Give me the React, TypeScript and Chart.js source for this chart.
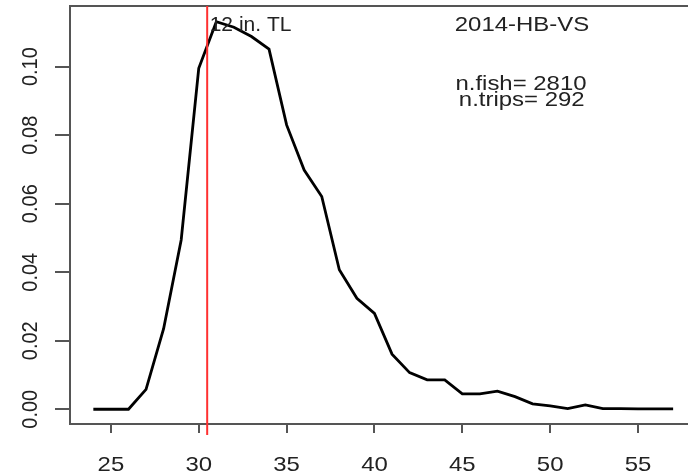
import React, { useEffect, useRef } from "react";
import { Chart, registerables } from "chart.js";

Chart.register(...registerables);

const lengthCm = [24, 25, 26, 27, 28, 29, 30, 31, 32, 33, 34, 35, 36, 37, 38, 39, 40, 41, 42, 43, 44, 45, 46, 47, 48, 49, 50, 51, 52, 53, 54, 55, 56, 57];
const density = [0, 0, 0, 0.0058, 0.0235, 0.0494, 0.0995, 0.1131, 0.1115, 0.1088, 0.1051, 0.083, 0.0698, 0.0621, 0.0407, 0.0324, 0.028, 0.0161, 0.0107, 0.0086, 0.0086, 0.0045, 0.0045, 0.0053, 0.0037, 0.0016, 0.001, 0.0002, 0.0013, 0.0002, 0.0002, 0.0001, 0.0001, 0.0001];
const xTicks = [25, 30, 35, 40, 45, 50, 55];
const yTicks = [0, 0.02, 0.04, 0.06, 0.08, 0.1];
const sizeLimitCm = 30.48;
const titleText = "2014-HB-VS";
const limitText = "12 in. TL";
const fishText = "n.fish= 2810";
const tripsText = "n.trips= 292";

const FONT = '"Liberation Sans", Arial, sans-serif';

function drawText(ctx: CanvasRenderingContext2D, text: string, x: number, y: number, size: number, align: CanvasTextAlign, sx = 1.14, rotate = false) {
  ctx.save();
  ctx.translate(x, y);
  ctx.scale(sx, 1);
  if (rotate) ctx.rotate(-Math.PI / 2);
  ctx.font = `${size}px ${FONT}`;
  ctx.fillStyle = "#222";
  ctx.textAlign = align;
  ctx.textBaseline = "alphabetic";
  ctx.fillText(text, 0, 0);
  ctx.restore();
}

const rPlot = {
  id: "rPlot",
  afterDatasetsDraw(chart: any) {
    const ctx: CanvasRenderingContext2D = chart.ctx;
    const { left, right, top, bottom } = chart.chartArea;
    const xs = chart.scales.x;
    const ys = chart.scales.y;
    ctx.save();
    // box
    ctx.strokeStyle = "#555";
    ctx.lineWidth = 2;
    ctx.beginPath();
    ctx.moveTo(right + 2, top);
    ctx.lineTo(left, top);
    ctx.lineTo(left, bottom);
    ctx.lineTo(right + 2, bottom);
    ctx.stroke();
    // ticks
    ctx.beginPath();
    for (const v of xTicks) {
      const px = Math.round(xs.getPixelForValue(v));
      ctx.moveTo(px, bottom);
      ctx.lineTo(px, bottom + 9);
    }
    for (const v of yTicks) {
      const py = Math.round(ys.getPixelForValue(v));
      ctx.moveTo(left, py);
      ctx.lineTo(left - 15, py);
    }
    ctx.stroke();
    // red limit line
    const rx = xs.getPixelForValue(sizeLimitCm);
    ctx.strokeStyle = "#ff3030";
    ctx.lineWidth = 2;
    ctx.beginPath();
    ctx.moveTo(rx, top);
    ctx.lineTo(rx, bottom + 11);
    ctx.stroke();
    ctx.restore();

    for (const v of xTicks) {
      drawText(ctx, String(v), xs.getPixelForValue(v), 470.5, 21, "center");
    }
    for (const v of yTicks) {
      drawText(ctx, v.toFixed(2), 36.7, ys.getPixelForValue(v), 20, "center", 1.14, true);
    }
    drawText(ctx, limitText, rx + 2.5, 31, 21, "left", 1.0);
    drawText(ctx, titleText, 522, 30.5, 21, "center");
    drawText(ctx, fishText, 521, 89.5, 21, "center");
    drawText(ctx, tripsText, 521.7, 105.5, 21, "center");
  },
};

export default function App() {
  const ref = useRef<HTMLCanvasElement | null>(null);
  useEffect(() => {
    if (!ref.current) return;
    const chart = new Chart(ref.current, {
      type: "line",
      data: {
        datasets: [
          {
            data: lengthCm.map((x, i) => ({ x, y: density[i] })),
            borderColor: "#000",
            borderWidth: 2.8,
            pointRadius: 0,
            tension: 0,
            fill: false,
          },
        ],
      },
      options: {
        animation: false,
        responsive: false,
        events: [],
        layout: { padding: { top: 6, left: 0, right: 0, bottom: 0 } },
        plugins: { legend: { display: false }, tooltip: { enabled: false } },
        scales: {
          x: {
            type: "linear",
            min: 22.672,
            max: 57.846,
            grid: { display: false },
            border: { display: false },
            ticks: { display: false },
            afterFit: (s: any) => {
              s.height = 52;
            },
          },
          y: {
            type: "linear",
            min: -0.0043,
            max: 0.1177,
            grid: { display: false },
            border: { display: false },
            ticks: { display: false },
            afterFit: (s: any) => {
              s.width = 70;
            },
          },
        },
      },
      plugins: [rPlot],
    });
    return () => chart.destroy();
  }, []);
  return (
    <div style={{ position: "fixed", left: 0, top: 0, width: 688, height: 476, background: "#fff" }}>
      <canvas ref={ref} width={688} height={476} style={{ display: "block" }} />
    </div>
  );
}
